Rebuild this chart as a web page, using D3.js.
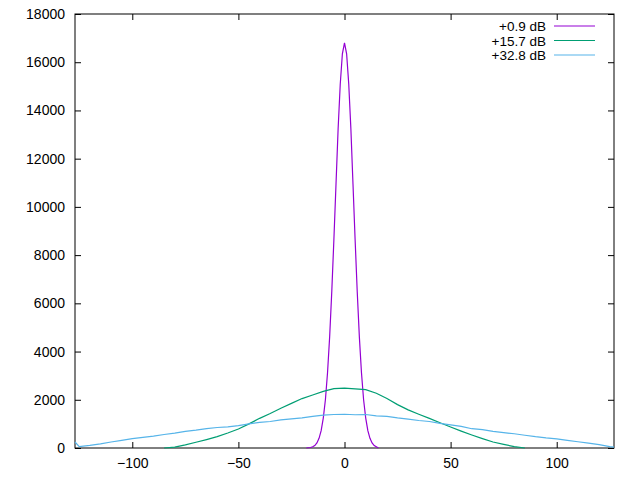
<!DOCTYPE html>
<html>
<head>
<meta charset="utf-8">
<script src="https://cdn.jsdelivr.net/npm/d3@7"></script>
<style>
  body { margin: 0; background: #fff; }
  text { font-family: "Liberation Sans", Arial, sans-serif; font-size: 13px; }
</style>
</head>
<body>
<svg id="chart" width="640" height="480"></svg>
<script>
// series data
const seriesNames = ['+0.9 dB', '+15.7 dB', '+32.8 dB'];
const seriesColors = ['#9400d3', '#009e73', '#56b4e9'];

const purpleX = [-18, -16, -15, -14, -13, -12, -11, -10, -9, -8, -7, -6, -5, -4, -3, -2, -1, 0, 1, 2, 3, 4, 5, 6, 7, 8, 9, 10, 11, 12, 13, 14, 16];
const purpleY = [0, 20, 50, 100, 210, 400, 720, 1240, 2000, 3120, 4610, 6480, 8650, 10950, 13250, 15100, 16350, 16800, 16350, 15100, 13250, 10950, 8650, 6480, 4610, 3120, 2000, 1240, 720, 400, 210, 100, 0];

const greenX = [-85, -80, -75, -70, -65, -60, -55, -50, -45, -40, -35, -30, -25, -20, -15, -10, -5, 0, 5, 10, 15, 20, 25, 30, 35, 40, 45, 50, 55, 60, 65, 70, 75, 80, 85];
const greenY = [0, 40, 130, 240, 350, 470, 620, 790, 1000, 1230, 1430, 1650, 1850, 2050, 2200, 2350, 2460, 2480, 2450, 2420, 2270, 2050, 1800, 1580, 1400, 1230, 1050, 870, 700, 540, 390, 250, 150, 60, 0];

const blueX = [-127, -125, -120, -115, -110, -105, -100, -95, -90, -85, -80, -75, -70, -65, -60, -55, -50, -45, -40, -35, -30, -25, -20, -15, -10, -5, 0, 5, 10, 15, 20, 25, 30, 35, 40, 45, 50, 55, 60, 65, 70, 75, 80, 85, 90, 95, 100, 105, 110, 115, 120, 125, 127];
const blueY = [250, 60, 110, 170, 250, 320, 390, 440, 490, 560, 620, 690, 740, 800, 850, 880, 930, 1000, 1060, 1100, 1170, 1210, 1250, 1310, 1360, 1390, 1400, 1380, 1390, 1330, 1310, 1250, 1200, 1140, 1100, 1020, 960, 900, 800, 760, 690, 640, 590, 530, 470, 420, 380, 320, 260, 200, 140, 60, 40];

const xTicks = [-100, -50, 0, 50, 100];
const yTicks = [0, 2000, 4000, 6000, 8000, 10000, 12000, 14000, 16000, 18000];

const svg = d3.select('#chart');
const margins = { left: 75, top: 14, right: 26, bottom: 32 };
const W = 640 - margins.left - margins.right;
const H = 480 - margins.top - margins.bottom;
const g = svg.append('g').attr('transform', `translate(${margins.left},${margins.top})`);

const x = d3.scaleLinear().domain([-127, 127]).range([0, W]);
const y = d3.scaleLinear().domain([0, 18000]).range([H, 0]);

// axes with inward ticks, mirrored like gnuplot
g.append('g').attr('transform', `translate(0,${H})`)
  .call(d3.axisBottom(x).tickValues(xTicks).tickSize(-6).tickPadding(10).tickFormat(d3.format('d')));
g.append('g')
  .call(d3.axisTop(x).tickValues(xTicks).tickSize(-6).tickFormat(''));
g.append('g')
  .call(d3.axisLeft(y).tickValues(yTicks).tickSize(-6).tickPadding(10).tickFormat(d3.format('d')));
g.append('g').attr('transform', `translate(${W},0)`)
  .call(d3.axisRight(y).tickValues(yTicks).tickSize(-6).tickFormat(''));
g.selectAll('.domain').remove();
g.selectAll('.tick line').attr('stroke', '#000');
g.selectAll('.tick text').attr('fill', '#000').style('font-size', '14px');
g.append('rect').attr('width', W).attr('height', H)
  .attr('fill', 'none').attr('stroke', '#000');

const line = d3.line().x(d => x(d[0])).y(d => y(d[1]));
const series = [
  d3.zip(purpleX, purpleY),
  d3.zip(greenX, greenY),
  d3.zip(blueX, blueY)
];
series.forEach((s, i) => {
  g.append('path').datum(s).attr('d', line)
    .attr('fill', 'none').attr('stroke', seriesColors[i]).attr('stroke-width', 1.2);
});

// legend
seriesNames.forEach((name, i) => {
  const ly = 26 + i * 14.5;
  svg.append('text').attr('x', 546).attr('y', ly + 5)
    .attr('text-anchor', 'end').style('font-size', '13.5px').text(name);
  svg.append('line').attr('x1', 554).attr('x2', 595).attr('y1', ly).attr('y2', ly)
    .attr('stroke', seriesColors[i]).attr('stroke-width', 1.2);
});
</script>
</body>
</html>
